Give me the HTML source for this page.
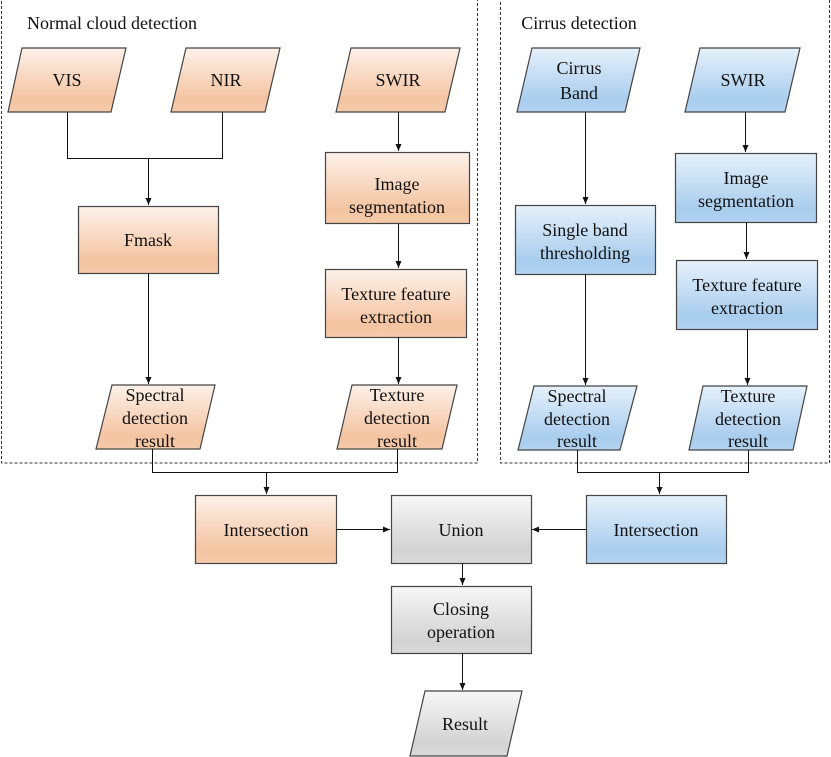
<!DOCTYPE html>
<html><head><style>body{margin:0;background:#fff}svg{display:block}svg text{font-family:'Liberation Serif','Times New Roman','DejaVu Serif',serif !important;font-size:18px;fill:#111;text-anchor:middle}</style></head><body>
<svg width="831" height="757" viewBox="0 0 831 757" xmlns="http://www.w3.org/2000/svg" font-family="Liberation Serif, Times New Roman, serif">
<defs>
<linearGradient id="o" x1="0" y1="0" x2="0" y2="1"><stop offset="0" stop-color="#fdf1e9"/><stop offset="0.8" stop-color="#f4c4a1"/><stop offset="1" stop-color="#f5caa9"/></linearGradient>
<linearGradient id="b" x1="0" y1="0" x2="0" y2="1"><stop offset="0" stop-color="#e6f1fb"/><stop offset="0.8" stop-color="#a9cdee"/><stop offset="1" stop-color="#b2d2f0"/></linearGradient>
<linearGradient id="g" x1="0" y1="0" x2="0" y2="1"><stop offset="0" stop-color="#f7f7f7"/><stop offset="0.8" stop-color="#d3d3d3"/><stop offset="1" stop-color="#d9d9d9"/></linearGradient>
<marker id="a" markerWidth="8" markerHeight="8" refX="7" refY="4" orient="auto" markerUnits="userSpaceOnUse"><path d="M0,1 L7,4 L0,7 z" fill="#111"/></marker>
</defs>
<g fill="none" stroke="#333" stroke-width="1" stroke-dasharray="3,2">
<rect x="1.5" y="-1" width="476" height="464"/>
<rect x="500.5" y="-1" width="329" height="464"/>
</g>
<g font-family="Liberation Serif, serif" font-size="18">
<text x="112" y="29">Normal cloud detection</text>
<text x="579" y="29">Cirrus detection</text>
</g>
<g stroke="#444" stroke-width="1.2">
<polygon points="22,48 126,48 111,112 8,112" fill="url(#o)"/>
<polygon points="186,48 280,48 265,112 171,112" fill="url(#o)"/>
<polygon points="351,48 460,48 445,112 336,112" fill="url(#o)"/>
<rect x="78.5" y="206.5" width="140" height="67" fill="url(#o)"/>
<rect x="325.5" y="152.5" width="144" height="71" fill="url(#o)"/>
<rect x="325.5" y="269.5" width="141" height="68" fill="url(#o)"/>
<polygon points="112,385 215,385 200,449 96,449" fill="url(#o)"/>
<polygon points="352,385 457,385 442,449 337,449" fill="url(#o)"/>
<polygon points="532,48 640,48 625,112 517,112" fill="url(#b)"/>
<polygon points="700,48 800,48 785,112 685,112" fill="url(#b)"/>
<rect x="675.5" y="153.5" width="141" height="69" fill="url(#b)"/>
<rect x="515.5" y="205.5" width="140" height="69" fill="url(#b)"/>
<rect x="676.5" y="260.5" width="141" height="69" fill="url(#b)"/>
<polygon points="534,386 637,386 620,450 518,450" fill="url(#b)"/>
<polygon points="703,386 807,386 793,450 689,450" fill="url(#b)"/>
<rect x="195.5" y="495.5" width="141" height="68" fill="url(#o)"/>
<rect x="391.5" y="495.5" width="140" height="68" fill="url(#g)"/>
<rect x="586.5" y="495.5" width="140" height="68" fill="url(#b)"/>
<rect x="391.5" y="586.5" width="140" height="67" fill="url(#g)"/>
<polygon points="425,691 522,691 507,756 410,756" fill="url(#g)"/>
</g>
<g stroke="#111" stroke-width="1" fill="none">
<path d="M67.5,112 V158.5 H222.5 V112"/>
<path d="M148.5,158 V205" marker-end="url(#a)"/>
<path d="M148.5,273 V384" marker-end="url(#a)"/>
<path d="M398.5,112 V151" marker-end="url(#a)"/>
<path d="M398.5,224 V268" marker-end="url(#a)"/>
<path d="M398.5,337 V384" marker-end="url(#a)"/>
<path d="M152.5,449 V472.5 H397.5 V449"/>
<path d="M266.5,472 V494" marker-end="url(#a)"/>
<path d="M585.5,112 V204" marker-end="url(#a)"/>
<path d="M585.5,274 V385" marker-end="url(#a)"/>
<path d="M745.5,112 V152" marker-end="url(#a)"/>
<path d="M746.5,222 V259" marker-end="url(#a)"/>
<path d="M747.5,329 V385" marker-end="url(#a)"/>
<path d="M577.5,450 V472.5 H748.5 V450"/>
<path d="M659.5,472 V494" marker-end="url(#a)"/>
<path d="M336,529.5 H390" marker-end="url(#a)"/>
<path d="M586,529.5 H532" marker-end="url(#a)"/>
<path d="M462.5,563 V585" marker-end="url(#a)"/>
<path d="M462.5,653 V690" marker-end="url(#a)"/>
</g>
<g font-family="Liberation Serif, serif" font-size="18">
<text x="67" y="86">VIS</text>
<text x="226" y="86">NIR</text>
<text x="398" y="86">SWIR</text>
<text x="148" y="246">Fmask</text>
<text x="397" y="190">Image</text><text x="397" y="213">segmentation</text>
<text x="396" y="300">Texture feature</text><text x="396" y="323">extraction</text>
<text x="155" y="401">Spectral</text><text x="155" y="424">detection</text><text x="155" y="447">result</text>
<text x="397" y="401">Texture</text><text x="397" y="424">detection</text><text x="397" y="447">result</text>
<text x="579" y="74">Cirrus</text><text x="579" y="99">Band</text>
<text x="743" y="86">SWIR</text>
<text x="746" y="184">Image</text><text x="746" y="207">segmentation</text>
<text x="585" y="236">Single band</text><text x="585" y="259">thresholding</text>
<text x="747" y="291">Texture feature</text><text x="747" y="314">extraction</text>
<text x="577" y="402">Spectral</text><text x="577" y="425">detection</text><text x="577" y="447">result</text>
<text x="748" y="402">Texture</text><text x="748" y="425">detection</text><text x="748" y="447">result</text>
<text x="266" y="536">Intersection</text>
<text x="461" y="536">Union</text>
<text x="656" y="536">Intersection</text>
<text x="461" y="615">Closing</text><text x="461" y="638">operation</text>
<text x="465" y="730">Result</text>
</g>
</svg>
</body></html>
